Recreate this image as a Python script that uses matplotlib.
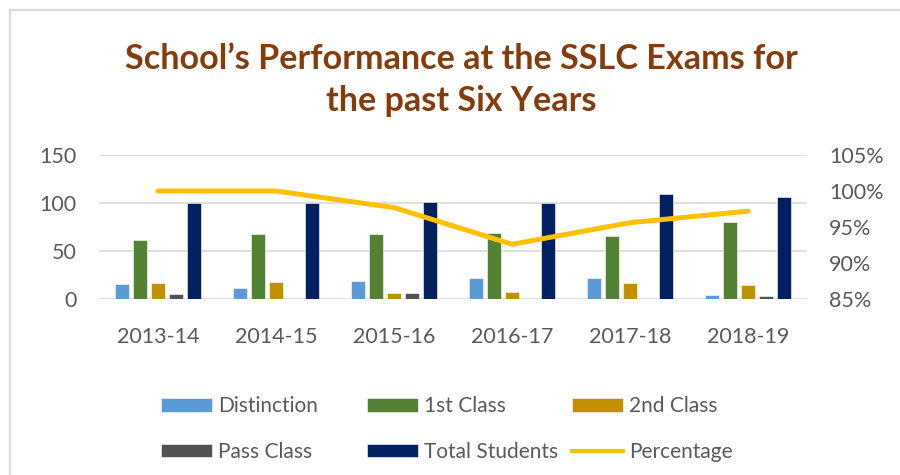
import matplotlib.pyplot as plt
from matplotlib.patches import Patch
from matplotlib.lines import Line2D
import numpy as np

# data
years = ["2013-14", "2014-15", "2015-16", "2016-17", "2017-18", "2018-19"]
distinction = [16, 11, 19, 22, 22, 4]
first_class = [61, 68, 68, 69, 66, 80]
second_class = [17, 18, 6, 7, 17, 15]
pass_class = [5, 0, 6, 0, 0, 3]
total_students = [100, 100, 101, 100, 109, 106]
percentage = [100, 100, 97.7, 92.6, 95.6, 97.2]

series = [
    ("Distinction", distinction, "#5B9BD5"),
    ("1st Class", first_class, "#548235"),
    ("2nd Class", second_class, "#BF9000"),
    ("Pass Class", pass_class, "#525252"),
    ("Total Students", total_students, "#002060"),
]
line_color = "#FFC000"
text_color = "#595959"

plt.rcParams['font.family'] = ['Lato', 'DejaVu Sans']

fig = plt.figure(figsize=(9, 4.75), dpi=100)
ax = fig.add_axes([99 / 900, 1 - 299 / 475, 708 / 900, 144 / 475])
ax2 = ax.twinx()

x = np.arange(len(years))
slot = 0.152
width = 0.119
for i, (name, vals, col) in enumerate(series):
    ax.bar(x + (i - 2) * slot, vals, width, color=col, edgecolor="white",
           linewidth=0.4, zorder=3)

ax2.plot(x, percentage, color=line_color, linewidth=3.6,
         solid_capstyle="round", zorder=4)

ax.set_xlim(-0.5, len(years) - 0.5)
ax.set_ylim(0, 150)
ax.set_yticks([0, 50, 100, 150])
ax2.set_ylim(85, 105)
ax2.set_yticks([85, 90, 95, 100, 105])
ax2.set_yticklabels([f"{v}%" for v in [85, 90, 95, 100, 105]])
ax.set_xticks(x)
ax.set_xticklabels(years)

ax.grid(axis="y", color="#D9D9D9", linewidth=1.2, zorder=0)
ax.set_axisbelow(True)
for a in (ax, ax2):
    for s in a.spines.values():
        s.set_visible(False)
ax.tick_params(axis="both", length=0, labelsize=15.5, colors=text_color)
ax.tick_params(axis="y", pad=16)
ax.tick_params(axis="x", pad=20)
ax2.tick_params(axis="y", length=0, labelsize=15.5, colors=text_color, pad=16)
ax2.set_zorder(ax.get_zorder() + 1)
ax2.patch.set_visible(False)

fig.text(461.5 / 900, 1 - 80 / 475,
         "School\u2019s Performance at the SSLC Exams for\nthe past Six Years",
         ha="center", va="center", fontsize=24.6, fontweight="bold",
         color="#843C0C", linespacing=1.4)

# legend, three fixed-width columns like the original
handles = [Patch(facecolor=c, edgecolor="white", linewidth=0.4) for _, _, c in series]
handles.append(Line2D([0], [0], color=line_color, linewidth=3))
labels = [s[0] for s in series] + ["Percentage"]
columns = [(0, 3), (1, 4), (2, 5)]
col_x = [161, 367, 572]
for cx, (a, b) in zip(col_x, columns):
    leg = fig.legend([handles[a], handles[b]], [labels[a], labels[b]],
                     loc="upper left", bbox_to_anchor=(cx / 900, 1 - 396 / 475),
                     frameon=False, fontsize=15, handlelength=2.45,
                     handleheight=0.65, handletextpad=0.3, labelspacing=1.24,
                     borderpad=0, borderaxespad=0)
    for t in leg.get_texts():
        t.set_color(text_color)

# light chart border
fig.add_artist(Line2D([10 / 900, 10 / 900], [0, 1 - 10 / 475],
                      transform=fig.transFigure, color="#D9D9D9", linewidth=1.6))
fig.add_artist(Line2D([10 / 900, 1], [1 - 10 / 475, 1 - 10 / 475],
                      transform=fig.transFigure, color="#D9D9D9", linewidth=1.6))

fig.savefig("out.png", dpi=100)
